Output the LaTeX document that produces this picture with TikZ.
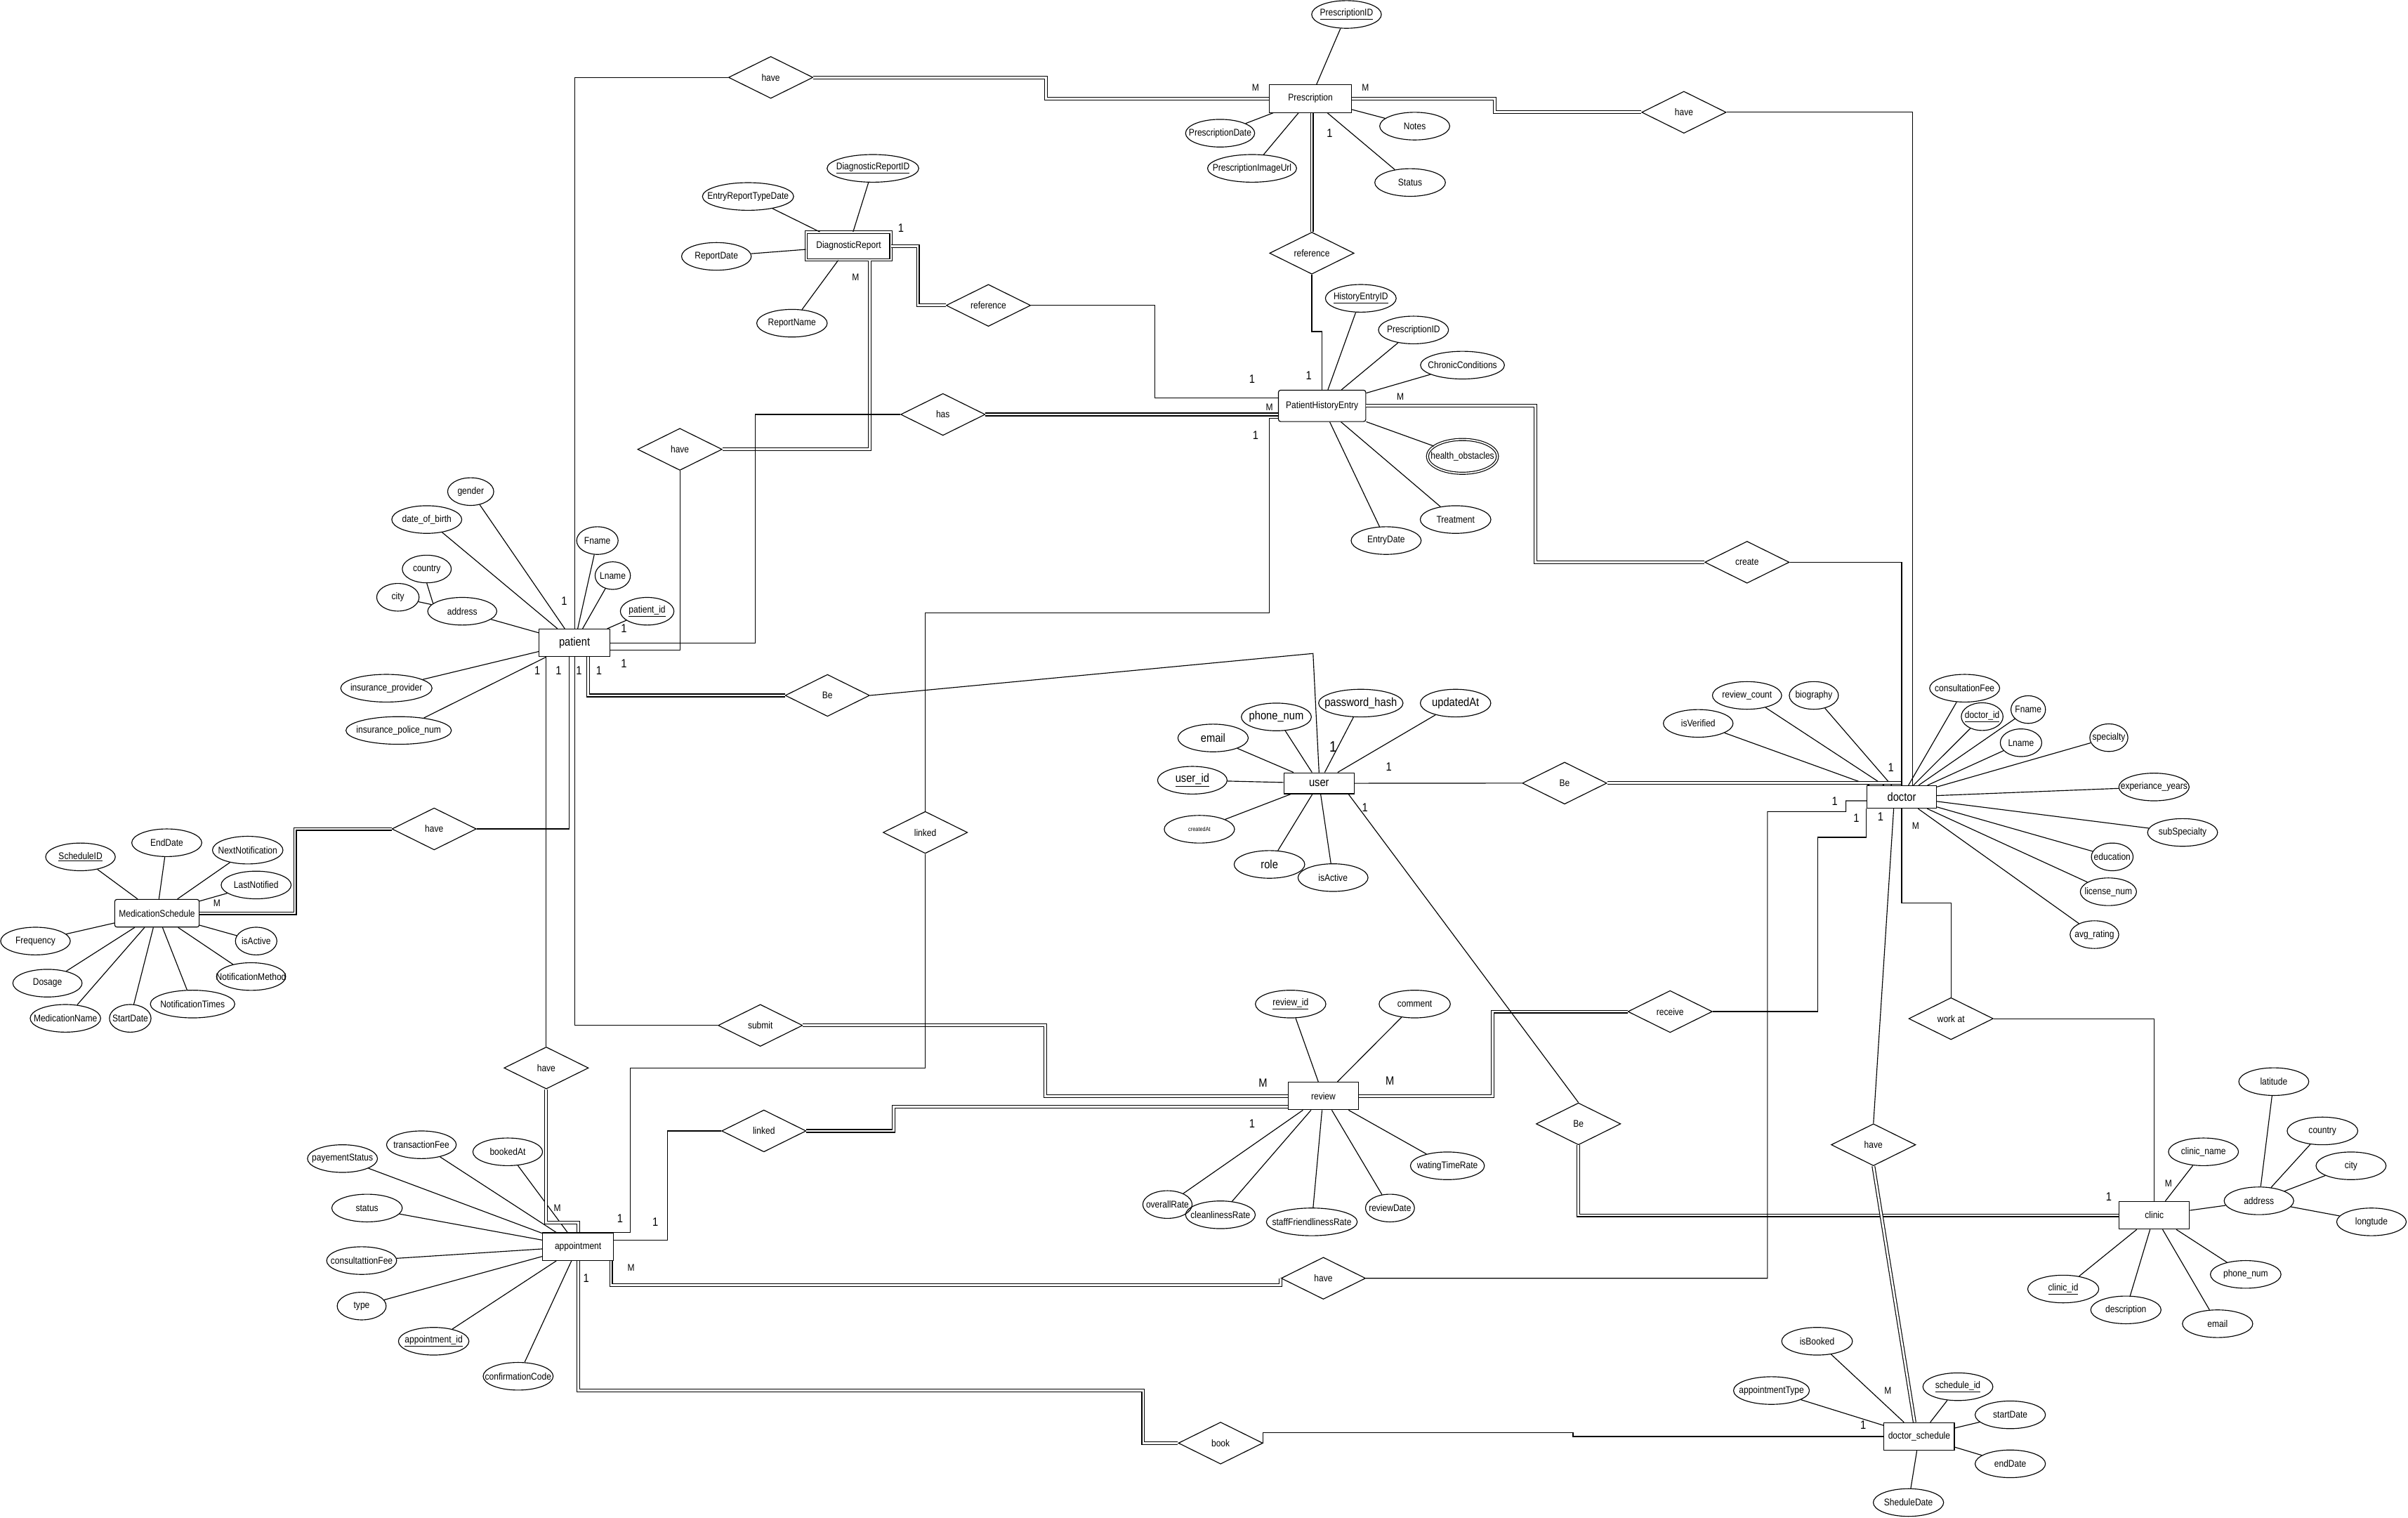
\documentclass[tikz,border=0pt]{standalone}
\usepackage{fontspec}
\setmainfont{Liberation Sans}[FakeStretch=0.87]
\usetikzlibrary{shapes.geometric}

\begin{document}
\begin{tikzpicture}[x=0.5mm,y=-0.5mm,line width=0.75pt,
    every node/.style={font=\fontsize{9}{10}\selectfont},
    fixed/.style={inner sep=0pt,
        execute at begin node={\hbox to 0pt\bgroup\hss},
        execute at end node={\hss\egroup}},
    ent/.style={fixed,draw,rectangle,minimum width=#1*0.5mm,minimum height=9mm},
    ent/.default=46,
    attr/.style={fixed,draw,ellipse,minimum width=#1*0.5mm,minimum height=9mm},
    attr/.default=46,
    rel/.style={fixed,draw,diamond,minimum width=27.5mm,minimum height=13.65mm},
    dbl/.style={double,double distance=1.8pt},
    bigtxt/.style={font=\fontsize{11}{12}\selectfont},
    card/.style={inner sep=0pt,font=\fontsize{11}{12}\selectfont},
    cardm/.style={inner sep=0pt,font=\fontsize{9}{10}\selectfont}]

    \useasboundingbox (0,0) rectangle (1568,988);

    \node[ent=53.5] (pres) at (853.3,64.2) {Prescription};
    \node[ent=55.2,double,double distance=1.6pt] (diag) at (552.6,160.2) {DiagnosticReport};
    \node[ent=56.9,minimum height=10.2mm,rounded corners=2pt] (phe) at (860.9,264.2) {PatientHistoryEntry};
    \node[ent,bigtxt] (pat) at (374.1,418.5) {patient};
    \node[ent=55,rounded corners=2pt] (med) at (102.2,594.5) {MedicationSchedule};
    \node[ent=45.9,minimum height=6.85mm,bigtxt] (usr) at (858.9,509.9) {user};
    \node[ent=45.3,minimum height=7.35mm,bigtxt] (doc) at (1238.3,518.8) {doctor};
    \node[ent=46.4] (appt) at (376.4,811.5) {appointment};
    \node[ent=45.9] (rev) at (861.7,713.4) {review};
    \node[ent=45.8] (clin) at (1402.8,791.1) {clinic};
    \node[ent=45.8] (sched) at (1249.7,935.1) {doctor\_schedule};

    \foreach \n/\x/\y/\lbl in {hvPres/501.9/50.4/have, hvPresDoc/1096.5/73.1/have,
        refPres/854.2/164.8/reference, refDiag/643.6/198.8/reference,
        hasPHE/614/269.8/has, hvDiag/442.7/292.5/have, create/1137.6/366/create,
        bePat/538.8/452.7/Be, beDoc/1018.8/509.8/Be, hvMed/282.7/539.6/have,
        linkPHE/602.5/541.9/linked, submit/495.1/667.5/submit,
        hvAppt/355.7/695.2/have, linkRev/497.4/736.2/linked,
        receive/1087.5/658.5/receive, workat/1270.4/663.1/work at,
        beClin/1027.8/731.6/Be, hvSched/1219.9/745.2/have,
        hvApDoc/861.7/832.1/have, book/794.8/939.4/book}
        \node[rel] (\n) at (\x,\y) {\lbl};

    \foreach \n/\x/\y/\w/\lbl in {aPresID/876.8/9.4/45.4/{\underline{PrescriptionID}},
        aPresDate/794.5/86.7/45/PrescriptionDate, aPresImg/815.3/109.6/58/PrescriptionImageUrl,
        aNotes/921.2/82.1/45.6/Notes, aStatusP/918.2/118.8/46/Status,
        aDiagID/568.4/109.6/59.7/{\underline{DiagnosticReportID}},
        aEntryType/487.1/127.9/59.4/EntryReportTypeDate, aRepDate/466.5/166.9/45.4/ReportDate,
        aRepName/515.7/210.4/45.9/ReportName,
        aHistID/886.1/194.2/46.1/{\underline{HistoryEntryID}},
        aPresID2/920.4/214.8/45.6/PrescriptionID, aChronic/952.3/237.7/54.7/ChronicConditions,
        aTreat/947.8/338.2/46/Treatment, aEntryDate/902.6/351.9/45.6/EntryDate,
        aGender/306.5/320/30/gender, aDob/277.9/338.2/45.6/date\_of\_birth,
        aFnameP/389/351.9/27/Fname, aLnameP/399/374.7/23/Lname,
        aPatID/421.4/397.9/34.9/{\underline{patient\_id}},
        aCountryP/277.9/370.4/31.9/country, aCityP/259.1/388.8/27.6/city,
        aAddrP/301/397.9/45/address, aInsProv/251.6/448/59.5/insurance\_provider,
        aInsPol/259.6/475.5/68.7/insurance\_police\_num,
        aSchedID/52.4/557.8/45.4/{\underline{ScheduleID}},
        aEndDate/108.6/548.6/45.6/EndDate, aNextNot/161.3/553.4/45.9/NextNotification,
        aLastNot/166.8/576.1/45.6/LastNotified, aActiveM/166.8/612.6/27/isActive,
        aNotMeth/163.5/635.7/45.1/NotificationMethod, aNotTimes/125.4/653.6/55/NotificationTimes,
        aFreq/23.1/612.6/45.4/Frequency, aDosage/30.9/640/45.1/Dosage,
        aMedName/42.6/662.9/45.9/MedicationName, aStartDate/84.8/662.9/27.1/StartDate,
        aActiveU/868/571.3/45.6/isActive,
        aRevCount/1137.6/452.7/45.1/review\_count, aVerified/1105.8/470.9/45.4/isVerified,
        aBio/1181.1/452.7/32/biography, aFee/1279.3/448/45.6/consultationFee,
        aDocID/1290.7/466.5/27.2/{\underline{doctor\_id}},
        aFnameD/1320.7/461.9/22.5/Fname, aLnameD/1316/483.5/27/Lname,
        aSpec/1373.2/480.2/24.8/specialty, aExp/1402.6/512.3/45.8/experiance\_years,
        aSubSpec/1421.2/541.9/45.6/subSpecialty, aEdu/1375.4/557.8/27.2/education,
        aLic/1372.9/580.5/36.6/license\_num, aRating/1363.8/608.4/31.7/avg\_rating,
        aPayStat/223/754.2/45.6/payementStatus, aTransFee/274.4/745.2/45.4/transactionFee,
        aBooked/330.6/749.8/45.4/bookedAt, aStatusA/239/786.4/45.9/status,
        aConsFee/235.5/820.6/45.6/consultattionFee, aType/235.5/850.2/31.9/type,
        aApptID/282.4/873.1/45.9/{\underline{appointment\_id}},
        aConfCode/337.4/895.9/45.6/confirmationCode,
        aRevID/840.4/653.6/45.9/{\underline{review\_id}}, aComment/921.2/653.6/46.4/comment,
        aOverall/760.2/784.1/32.1/overallRate, aClean/794.7/790.8/45.4/cleanlinessRate,
        aStaff/854.2/795.4/59.2/staffFriendlinessRate, aRevDate/905.1/786.4/31.9/reviewDate,
        aWait/942.5/758.9/48.2/watingTimeRate,
        aClinName/1434.8/749.8/45.6/clinic\_name, aAddrC/1470.9/781.7/45.3/address,
        aLat/1480.6/704.1/45.6/latitude, aCountryC/1512.3/736.2/46/country,
        aCityC/1530.9/758.9/45.6/city, aLong/1544.2/795.4/45.3/longtude,
        aClinID/1343.5/839.1/46.3/{\underline{clinic\_id}},
        aDesc/1384.3/852.7/45.8/description, aEmailC/1444/861.7/45.8/email,
        aPhoneC/1462.3/829.6/46/phone\_num,
        aBookedS/1183.2/873.1/46.1/isBooked, aApptType/1153.5/905.2/49.4/appointmentType,
        aSchID/1274.9/902.7/45.6/{\underline{schedule\_id}},
        aStartS/1309/921/45.8/startDate, aEndS/1309/952.9/45.8/endDate,
        aShedDate/1242.7/978.1/45.8/SheduleDate}
        \node[attr=\w] (\n) at (\x,\y) {\lbl};

    \foreach \n/\x/\y/\w/\lbl in {aEmailU/789.9/480.4/45.8/email,
        aPhoneU/831.1/466.7/45.6/phone\_num, aPass/886.1/457.7/55/password\_hash,
        aUpd/947.8/457.7/45.9/updatedAt, aUserID/776.4/507.9/45.3/{\underline{user\_id}},
        aRole/826.6/562.7/46/role}
        \node[attr=\w,bigtxt] (\n) at (\x,\y) {\lbl};

    \node[attr=45.8,font=\fontsize{5.5}{6}\selectfont] (aCreated) at (781,539.8) {createdAt};
    \node[attr=45.6,minimum height=11mm,double,double distance=1.2pt] (aHealth)
        at (952.3,297.1) {health\_obstacles};

    \foreach \a/\b in {aPresID/pres, aPresDate/pres, aPresImg/pres, aNotes/pres, aStatusP/pres,
        aDiagID/diag, aEntryType/diag, aRepDate/diag, aRepName/diag,
        aHistID/phe, aPresID2/phe, aChronic/phe, aHealth/phe, aTreat/phe, aEntryDate/phe,
        aGender/pat, aDob/pat, aFnameP/pat, aLnameP/pat, aPatID/pat, aAddrP/pat,
        aCityP/aAddrP, aInsProv/pat, aInsPol/pat,
        aSchedID/med, aEndDate/med, aNextNot/med, aLastNot/med, aActiveM/med, aNotMeth/med,
        aNotTimes/med, aFreq/med, aDosage/med, aMedName/med, aStartDate/med,
        aEmailU/usr, aPhoneU/usr, aPass/usr, aUpd/usr, aUserID/usr, aCreated/usr,
        aRole/usr, aActiveU/usr,
        aRevCount/doc, aVerified/doc, aBio/doc, aFee/doc, aDocID/doc, aFnameD/doc,
        aLnameD/doc, aSpec/doc, aExp/doc, aSubSpec/doc, aEdu/doc, aLic/doc, aRating/doc,
        aPayStat/appt, aTransFee/appt, aBooked/appt, aStatusA/appt, aConsFee/appt,
        aType/appt, aApptID/appt, aConfCode/appt,
        aRevID/rev, aComment/rev, aOverall/rev, aClean/rev, aStaff/rev, aRevDate/rev, aWait/rev,
        aClinName/clin, aAddrC/clin, aClinID/clin, aDesc/clin, aEmailC/clin, aPhoneC/clin,
        aLat/aAddrC, aCountryC/aAddrC, aCityC/aAddrC, aLong/aAddrC,
        aBookedS/sched, aApptType/sched, aSchID/sched, aStartS/sched, aEndS/sched,
        aShedDate/sched}
        \draw (\a) -- (\b);
    \draw (aCountryP.south) -- (aAddrP.165);

    \coordinate (pheA) at ([yshift=2.6mm]phe.west);
    \coordinate (revB) at ([yshift=-3.5mm]rev.west);
    \coordinate (bendU) at (855,425.4);

    \draw[dbl] (hvPres.east) -| (681,0 |- pres.west) -- (pres.west);
    \draw[dbl] (pres.east) -| (973.4,0 |- hvPresDoc.west) -- (hvPresDoc.west);
    \draw[dbl] (pres.south -| refPres.north) -- (refPres.north);
    \draw[dbl] (diag.east) -| (597.7,0 |- refDiag.west) -- (refDiag.west);
    \draw[dbl] (hasPHE.east) -- (hasPHE.east -| phe.west);
    \draw[dbl] (hvDiag.east) -| (566.4,0 |- diag.south);
    \draw[dbl] (phe.east) -| (999.7,0 |- create.west) -- (create.west);
    \draw[dbl] (383,0 |- pat.south) |- (bePat.west);
    \draw[dbl] (hvMed.west) -| (192.1,0 |- med.east) -- (med.east);
    \draw[dbl] (hvAppt.south) |- (appt.north |- 0,796) -- (appt.north);
    \draw[dbl] (submit.east) -| (680.5,0 |- rev.west) -- (rev.west);
    \draw[dbl] (linkRev.east) -| (582,0 |- revB) -- (revB);
    \draw[dbl] ([xshift=-1mm]appt.south east) |- (hvApDoc.west |- 0,836.5) -- (hvApDoc.west);
    \draw[dbl] (beDoc.east) -- (beDoc.east -| doc.north);
    \draw[dbl] (rev.east) -| (972,0 |- receive.west) -- (receive.west);
    \draw[dbl] (beClin.south) |- (clin.west);
    \draw[dbl] (hvSched.south) -- ([xshift=-1.5mm]sched.north);
    \draw[dbl] (appt.south) |- (744.4,905.2) |- (book.west);

    \draw (pat.north) |- (hvPres.west);
    \draw (hvPresDoc.east) -| (1245.4,0 |- doc.north);
    \draw (refPres.south) |- (phe.north |- 0,215.8) -- (phe.north);
    \draw (refDiag.east) -| (752,0 |- pheA) -- (pheA);
    \draw (pat.east) -| (491.9,0 |- hasPHE.west) -- (hasPHE.west);
    \draw ([yshift=-2.3mm]pat.east) -| (hvDiag.south);
    \draw (create.east) -| (doc.north);
    \draw (bePat.east) -- (bendU) -- (usr.north);
    \draw (370.5,0 |- pat.south) |- (hvMed.east);
    \draw (pat.south -| hvAppt.north) -- (hvAppt.north);
    \draw (pat.south) |- (submit.west);
    \draw ([yshift=-4.05mm]phe.west) -| (826.6,399.1) -| (linkPHE.north);
    \draw (linkPHE.south) |- (410.4,695.2) |- (appt.north east);
    \draw ([yshift=2.15mm]appt.east) -| (434.7,0 |- linkRev.west) -- (linkRev.west);
    \draw (hvApDoc.east) -| (1150.9,528.3) -| (1202,521.3) -- ([yshift=-1.25mm]doc.west);
    \draw (usr.east) -- (beDoc.west);
    \draw (receive.east) -| (1183.5,545.1) -| (doc.south west);
    \draw (doc.south) |- (workat.north |- 0,587.9) -- (workat.north);
    \draw (workat.east) -| (clin.north);
    \draw ([xshift=-2mm]usr.south east) -- (beClin.north);
    \draw ([xshift=-2.6mm]doc.south) -- (hvSched.north);
    \draw (book.east) |- (1024.3,932.5) |- (sched.west);

    \foreach \x/\y [count=\i] in {865.8/86.7, 586.7/148.6, 815.3/246.7, 852.2/244.6,
        817.6/283.4, 367.4/391.1, 406.3/409, 406.3/432, 349.9/436.7, 363.7/436.7,
        377/436.7, 390/436.7, 381.7/831.9, 403.8/793.3, 426.7/795.4, 904.4/499.3,
        888.8/525.5, 815.3/731.6, 1231.3/499.7, 1194.7/521.5, 1208.8/532.4,
        1224.6/531.8, 1373.2/779.2, 1213.2/927.7}
        \node[card] (one\i) at (\x,\y) {1};
    \node[card,font=\fontsize{14}{15}\selectfont] (oneU) at (868,486.2) {1};
    \foreach \x/\y [count=\i] in {822.4/705.1, 905.1/703.6}
        \node[card] (manyR\i) at (\x,\y) {M};
    \foreach \x/\y [count=\i] in {817.6/57.1, 889.1/57.1, 557.1/180.6, 911.9/258.2,
        826.6/265.2, 141.2/587.9, 362.9/786.6, 410.9/825.4, 1247.4/537.5,
        1412/770.4, 1229.3/905.2}
        \node[cardm] (many\i) at (\x,\y) {M};
\end{tikzpicture}
\end{document}
